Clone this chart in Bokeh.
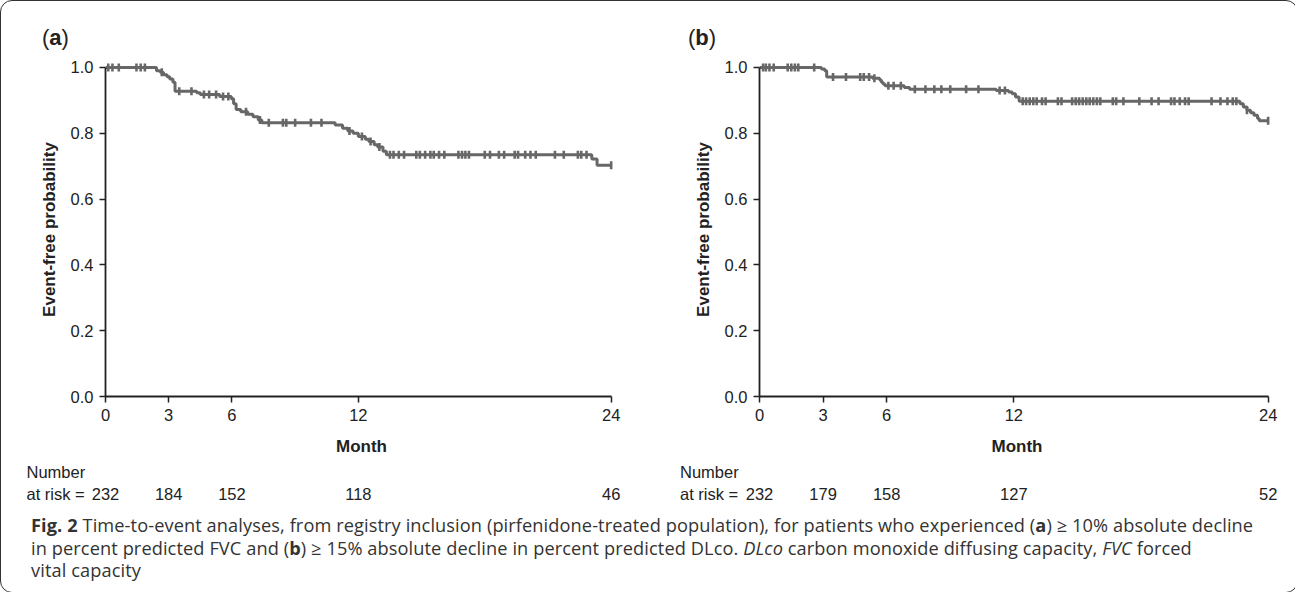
import numpy as np
from bokeh.plotting import figure
from bokeh.models import FixedTicker, NumeralTickFormatter, Div, Range1d
from bokeh.core.properties import value
from bokeh.layouts import column, row
from bokeh.embed import file_html
from bokeh.resources import INLINE

# ---------------- data ----------------
x_ticks = [0, 3, 6, 12, 24]
y_ticks = [0.0, 0.2, 0.4, 0.6, 0.8, 1.0]

# Panel (a): >=10% absolute decline in percent predicted FVC
a_event_t = [0, 2.42, 2.6, 2.75, 2.92, 3.05, 3.2, 3.3, 4.33, 4.5, 5.42, 5.97, 6.08, 6.2,
             6.42, 6.75, 7.0, 7.25, 7.42, 10.9, 11.25, 11.5, 11.75, 12.0, 12.33, 12.5,
             12.75, 12.92, 13.17, 13.33, 23.08, 23.33]
a_event_s = [1.0, 0.99, 0.985, 0.978, 0.972, 0.965, 0.955, 0.928, 0.923, 0.918, 0.912, 0.905,
             0.89, 0.872, 0.865, 0.858, 0.85, 0.84, 0.832, 0.825, 0.815, 0.807, 0.80, 0.79,
             0.782, 0.775, 0.765, 0.758, 0.745, 0.735, 0.722, 0.703]
a_censor_t = [0.13, 0.33, 0.63, 1.47, 1.67, 1.87, 2.67, 3.5, 4.08, 4.67, 4.92, 5.25, 5.58,
              5.83, 6.67, 7.33, 7.75, 8.42, 8.58, 9.0, 9.75, 10.25, 11.58, 12.17, 12.58,
              13.0, 13.5, 13.67, 13.92, 14.17, 14.75, 14.92, 15.17, 15.42, 15.58, 15.83,
              16.08, 16.75, 16.92, 17.08, 17.25, 18.0, 18.25, 18.67, 18.92, 19.42, 19.58,
              19.92, 20.17, 20.42, 21.33, 21.75, 22.42, 22.58, 22.83, 24.0]
a_risk = [232, 184, 152, 118, 46]

# Panel (b): >=15% absolute decline in percent predicted DLco
b_event_t = [0, 2.92, 3.08, 3.17, 5.33, 5.67, 5.75, 5.83, 5.92, 6.83, 7.08, 11.17, 11.75,
             11.92, 12.08, 12.25, 22.67, 22.83, 23.0, 23.17, 23.33, 23.5, 23.58]
b_event_s = [1.0, 0.995, 0.99, 0.971, 0.967, 0.962, 0.955, 0.95, 0.944, 0.939, 0.934, 0.93,
             0.925, 0.92, 0.91, 0.897, 0.89, 0.88, 0.87, 0.862, 0.855, 0.845, 0.838]
b_censor_t = [0.17, 0.3, 0.47, 0.67, 1.33, 1.5, 1.67, 1.83, 2.58, 3.47, 4.08, 4.75, 4.92,
              5.17, 5.42, 6.08, 6.33, 6.67, 7.33, 7.83, 8.25, 8.58, 9.0, 9.75, 10.33, 11.33,
              11.58, 12.42, 12.58, 12.75, 12.92, 13.08, 13.33, 13.5, 14.08, 14.25, 14.75,
              14.92, 15.08, 15.25, 15.42, 15.58, 15.75, 15.92, 16.08, 16.67, 16.83, 17.17,
              17.92, 18.5, 18.83, 19.42, 19.58, 19.83, 20.08, 20.25, 21.33, 21.75, 22.08,
              22.33, 22.5, 23.0, 24.0]
b_risk = [232, 179, 158, 127, 52]

risk_head = ["Number", "at risk ="]

CURVE = "#676767"
INK = "#222222"
FONT = "Liberation Sans"
X_END = 24.3
TICK_FS = "16.5px"
LAB_FS = "17px"
STRIP_H = 46


def km_panel(ev_t, ev_s, cen_t, frame_w, left_b, right_b):
    p = figure(frame_width=frame_w, frame_height=334,
               x_range=Range1d(0, X_END), y_range=Range1d(0, 1.015),
               min_border_left=left_b, min_border_right=right_b,
               min_border_top=7, min_border_bottom=64,
               output_backend="svg", toolbar_location=None,
               background_fill_color="white", border_fill_color="white")
    p.outline_line_color = None
    p.grid.visible = False

    xs = list(ev_t) + [24.0]
    ys = list(ev_s) + [ev_s[-1]]
    p.step(xs, ys, mode="after", line_color=CURVE, line_width=3)
    idx = np.searchsorted(np.array(ev_t), np.array(cen_t), side="right") - 1
    cy = [ev_s[i] for i in idx]
    p.scatter(cen_t, cy, marker="dash", angle=np.pi / 2, size=8,
              line_color=CURVE, line_width=2.6)

    for ax in (p.xaxis[0], p.yaxis[0]):
        ax.axis_line_color = INK
        ax.axis_line_width = 1.8
        ax.major_tick_line_color = INK
        ax.major_tick_line_width = 1.5
        ax.major_tick_out = 6
        ax.major_tick_in = 0
        ax.minor_tick_line_color = None
        ax.major_label_text_font = FONT
        ax.major_label_text_font_size = TICK_FS
        ax.major_label_text_color = INK
        ax.axis_label_text_font = FONT
        ax.axis_label_text_font_size = LAB_FS
        ax.axis_label_text_font_style = "bold"
        ax.axis_label_text_color = INK

    p.xaxis.ticker = FixedTicker(ticks=x_ticks)
    p.xaxis.bounds = (0, 24)
    p.xaxis.major_label_standoff = 6
    p.xaxis.axis_label = "Month"
    p.xaxis.axis_label_standoff = 13

    p.yaxis.ticker = FixedTicker(ticks=y_ticks)
    p.yaxis.bounds = (0, 1)
    p.yaxis.formatter = NumeralTickFormatter(format="0.0")
    p.yaxis.major_label_standoff = 6
    p.yaxis.axis_label = "Event-free probability"
    p.yaxis.axis_label_standoff = 9
    return p


def risk_strip(risk, frame_w, left_b, right_b):
    fig_w = left_b + frame_w + right_b
    s = frame_w / X_END
    r = figure(frame_width=fig_w, frame_height=STRIP_H,
               x_range=Range1d(-left_b / s, (fig_w - left_b) / s),
               y_range=Range1d(0, STRIP_H), min_border=0, frame_align=False,
               x_axis_location=None, y_axis_location=None,
               output_backend="svg", toolbar_location=None)
    r.outline_line_color = None
    r.grid.visible = False
    y_num, y_risk = STRIP_H - 11.5, STRIP_H - 33.5
    r.text(x=[-3.75, -3.75], y=[y_num, y_risk], text=risk_head, text_font=value(FONT),
           text_font_size=TICK_FS, text_color=INK, text_baseline="middle",
           text_align="left")
    r.text(x=x_ticks, y=[y_risk] * len(x_ticks), text=[str(n) for n in risk],
           text_font=value(FONT), text_font_size=TICK_FS, text_color=INK,
           text_baseline="middle", text_align="center")
    return r


def tag_div(letter, fig_w, pad_left):
    html = ('<div style="padding:21px 0 0 %dpx; font-family:\'Liberation Sans\'; '
            'font-size:22px; line-height:22px; color:#222;">(<b>%s</b>)</div>'
            % (pad_left, letter))
    return Div(text=html, width=fig_w, height=44)


A = dict(frame_w=512, left_b=104, right_b=24)
B = dict(frame_w=515, left_b=108, right_b=13)

pa = km_panel(a_event_t, a_event_s, a_censor_t, **A)
pb = km_panel(b_event_t, b_event_s, b_censor_t, **B)
ra = risk_strip(a_risk, **A)
rb = risk_strip(b_risk, **B)
wa = A["left_b"] + A["frame_w"] + A["right_b"]
wb = B["left_b"] + B["frame_w"] + B["right_b"]
ta = tag_div("a", wa, 36)
tb = tag_div("b", wb, 32)

caption_html = (
    '<div style="padding:3px 0 0 25px; font-family:\'Open Sans\'; font-size:18.2px; '
    'letter-spacing:0.1px; line-height:22.5px; color:#333; white-space:nowrap;">'
    "<b>Fig. 2</b> Time-to-event analyses, from registry inclusion (pirfenidone-treated "
    "population), for patients who experienced (<b>a</b>) \u2265 10% absolute decline<br>"
    "in percent predicted FVC and (<b>b</b>) \u2265 15% absolute decline in percent predicted "
    "DLco. <i>DLco</i> carbon monoxide diffusing capacity, <i>FVC</i> forced<br>"
    "vital capacity</div>"
)
cap = Div(text=caption_html, width=wa + wb, height=76)

layout = column(row(column(ta, pa, ra), column(tb, pb, rb)), cap,
                styles={"border": "1.5px solid #333333", "border-radius": "12px"})

open("out.html", "w").write(file_html(layout, INLINE))
